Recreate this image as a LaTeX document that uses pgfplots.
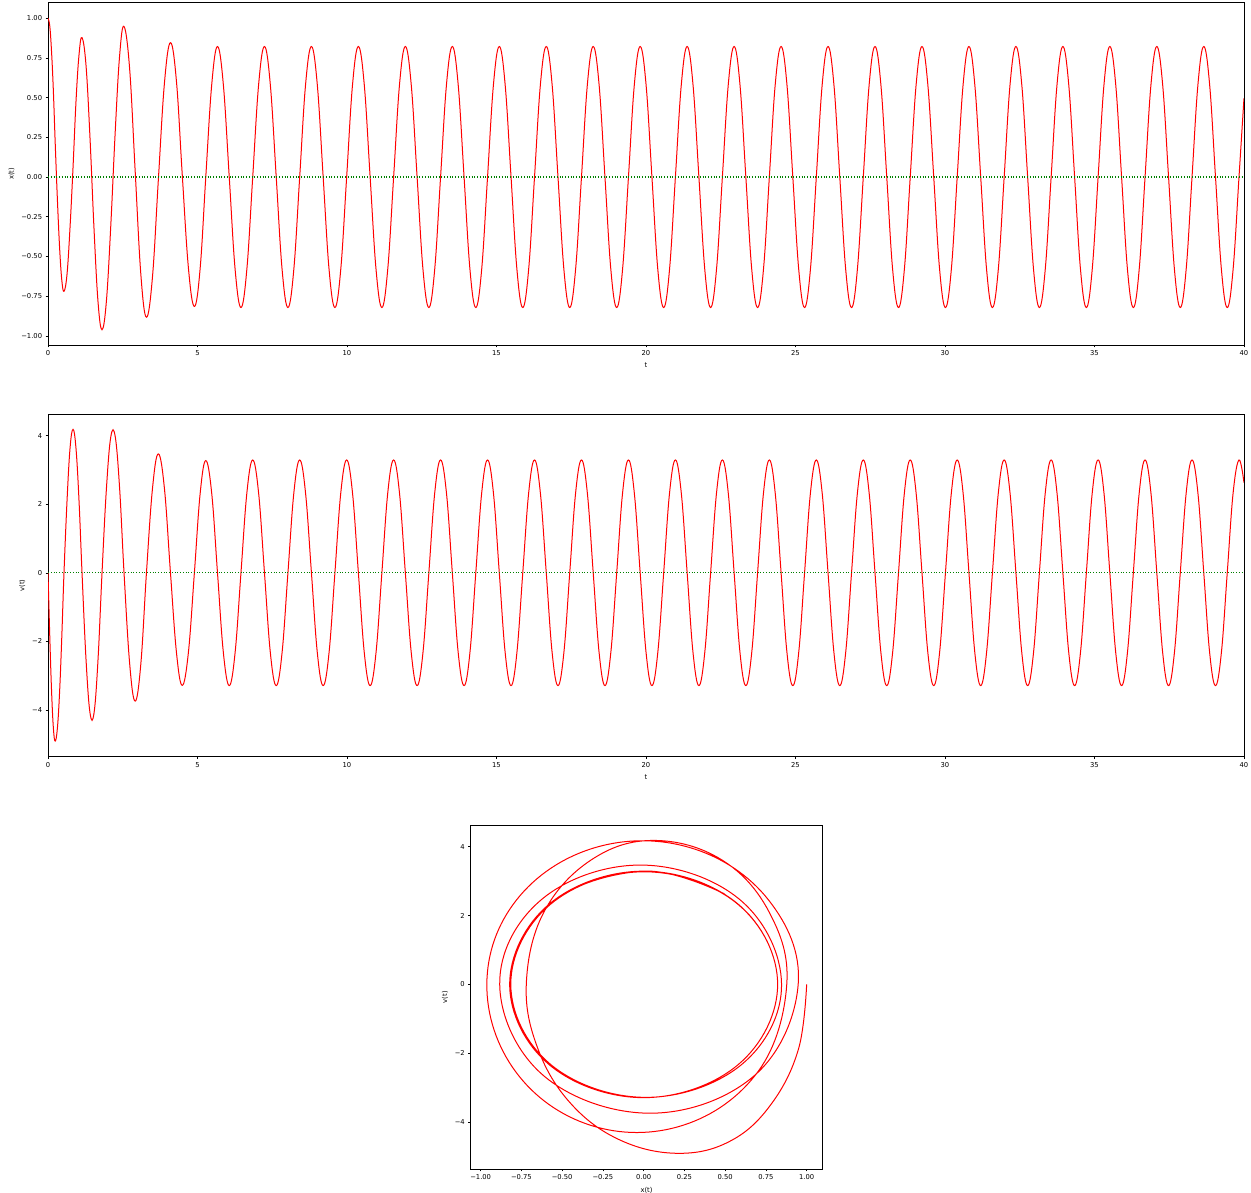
\documentclass[border=0pt]{standalone}
\usepackage{pgfplots}
\usepackage{pgfplotstable}
\pgfplotsset{compat=1.18}
\usepackage{fontspec}
\setmainfont{DejaVu Sans}

\pgfplotstableread{
t x v
0.000 1.000 0.000
0.060 0.950 -1.875
0.120 0.785 -3.460
0.180 0.540 -4.527
0.240 0.220 -4.905
0.314 -0.140 -4.530
0.388 -0.445 -3.470
0.461 -0.648 -1.877
0.535 -0.720 0.000
0.636 -0.613 2.090
0.736 -0.320 3.620
0.837 0.060 4.180
0.937 0.478 3.620
1.038 0.771 2.090
1.138 0.878 0.000
1.272 0.702 -2.530
1.406 0.242 -4.090
1.539 -0.326 -4.090
1.673 -0.786 -2.530
1.807 -0.962 0.000
1.954 -0.780 2.452
2.101 -0.302 3.966
2.249 0.288 3.966
2.396 0.766 2.452
2.543 0.948 0.000
2.731 0.680 -2.645
2.915 0.040 -3.740
3.106 -0.615 -2.645
3.293 -0.883 0.000
3.494 -0.630 2.450
3.690 -0.020 3.465
3.895 0.593 2.450
4.096 0.846 0.000
4.296 0.603 -2.319
4.490 0.015 -3.280
4.696 -0.572 -2.319
4.896 -0.815 0.000
5.089 -0.575 2.312
5.278 0.003 3.270
5.476 0.582 2.312
5.669 0.822 0.000
5.865 0.581 -2.325
6.062 0.000 -3.288
6.258 -0.581 -2.325
6.454 -0.822 0.000
6.651 -0.581 2.325
6.847 0.000 3.288
7.044 0.581 2.325
7.240 0.822 0.000
7.436 0.581 -2.325
7.633 0.000 -3.288
7.829 -0.581 -2.325
8.025 -0.822 0.000
8.222 -0.581 2.325
8.418 0.000 3.288
8.614 0.581 2.325
8.811 0.822 0.000
9.007 0.581 -2.325
9.203 0.000 -3.288
9.400 -0.581 -2.325
9.596 -0.822 0.000
9.792 -0.581 2.325
9.989 0.000 3.288
10.185 0.581 2.325
10.381 0.822 0.000
10.578 0.581 -2.325
10.774 0.000 -3.288
10.971 -0.581 -2.325
11.167 -0.822 0.000
11.363 -0.581 2.325
11.560 0.000 3.288
11.756 0.581 2.325
11.952 0.822 0.000
12.149 0.581 -2.325
12.345 0.000 -3.288
12.541 -0.581 -2.325
12.738 -0.822 0.000
12.934 -0.581 2.325
13.130 0.000 3.288
13.327 0.581 2.325
13.523 0.822 0.000
13.719 0.581 -2.325
13.916 0.000 -3.288
14.112 -0.581 -2.325
14.308 -0.822 0.000
14.505 -0.581 2.325
14.701 0.000 3.288
14.898 0.581 2.325
15.094 0.822 0.000
15.290 0.581 -2.325
15.487 0.000 -3.288
15.683 -0.581 -2.325
15.879 -0.822 0.000
16.076 -0.581 2.325
16.272 0.000 3.288
16.468 0.581 2.325
16.665 0.822 0.000
16.861 0.581 -2.325
17.057 0.000 -3.288
17.254 -0.581 -2.325
17.450 -0.822 0.000
17.646 -0.581 2.325
17.843 0.000 3.288
18.039 0.581 2.325
18.235 0.822 0.000
18.432 0.581 -2.325
18.628 0.000 -3.288
18.824 -0.581 -2.325
19.021 -0.822 0.000
19.217 -0.581 2.325
19.414 0.000 3.288
19.610 0.581 2.325
19.806 0.822 0.000
20.003 0.581 -2.325
20.199 0.000 -3.288
20.395 -0.581 -2.325
20.592 -0.822 0.000
20.788 -0.581 2.325
20.984 0.000 3.288
21.181 0.581 2.325
21.377 0.822 0.000
21.573 0.581 -2.325
21.770 0.000 -3.288
21.966 -0.581 -2.325
22.162 -0.822 0.000
22.359 -0.581 2.325
22.555 0.000 3.288
22.752 0.581 2.325
22.948 0.822 0.000
23.144 0.581 -2.325
23.340 0.000 -3.288
23.537 -0.581 -2.325
23.733 -0.822 0.000
23.930 -0.581 2.325
24.126 0.000 3.288
24.322 0.581 2.325
24.519 0.822 0.000
24.715 0.581 -2.325
24.911 0.000 -3.288
25.108 -0.581 -2.325
25.304 -0.822 0.000
25.500 -0.581 2.325
25.697 0.000 3.288
25.893 0.581 2.325
26.089 0.822 0.000
26.286 0.581 -2.325
26.482 0.000 -3.288
26.679 -0.581 -2.325
26.875 -0.822 0.000
27.071 -0.581 2.325
27.268 0.000 3.288
27.464 0.581 2.325
27.660 0.822 0.000
27.857 0.581 -2.325
28.053 0.000 -3.288
28.249 -0.581 -2.325
28.446 -0.822 0.000
28.642 -0.581 2.325
28.838 0.000 3.288
29.035 0.581 2.325
29.231 0.822 0.000
29.427 0.581 -2.325
29.624 0.000 -3.288
29.820 -0.581 -2.325
30.016 -0.822 0.000
30.213 -0.581 2.325
30.409 0.000 3.288
30.606 0.581 2.325
30.802 0.822 0.000
30.998 0.581 -2.325
31.195 0.000 -3.288
31.391 -0.581 -2.325
31.587 -0.822 0.000
31.784 -0.581 2.325
31.980 0.000 3.288
32.176 0.581 2.325
32.373 0.822 0.000
32.569 0.581 -2.325
32.765 0.000 -3.288
32.962 -0.581 -2.325
33.158 -0.822 0.000
33.354 -0.581 2.325
33.551 0.000 3.288
33.747 0.581 2.325
33.943 0.822 0.000
34.140 0.581 -2.325
34.336 0.000 -3.288
34.532 -0.581 -2.325
34.729 -0.822 0.000
34.925 -0.581 2.325
35.122 0.000 3.288
35.318 0.581 2.325
35.514 0.822 0.000
35.711 0.581 -2.325
35.907 0.000 -3.288
36.103 -0.581 -2.325
36.300 -0.822 0.000
36.496 -0.581 2.325
36.692 0.000 3.288
36.889 0.581 2.325
37.085 0.822 0.000
37.281 0.581 -2.325
37.478 0.000 -3.288
37.674 -0.581 -2.325
37.870 -0.822 0.000
38.067 -0.581 2.325
38.263 0.000 3.288
38.460 0.581 2.325
38.656 0.822 0.000
38.852 0.581 -2.325
39.048 0.000 -3.288
39.245 -0.581 -2.325
39.441 -0.822 0.000
39.637 -0.581 2.325
39.834 0.000 3.288
40.000 0.495 2.630
}\osc

\definecolor{mplgreen}{rgb}{0,0.5,0}
\pgfplotsset{
  myax/.style={
    scale only axis,
    anchor=south west,
    axis line style={line width=0.55bp, black},
    every tick/.style={black, line width=0.55bp},
    major tick length=2.4bp,
    tick align=outside,
    tick pos=left,
    tick label style={font=\fontsize{6.8}{8}\selectfont},
    label style={font=\fontsize{6.8}{8}\selectfont},
    clip=true,
  },
  redline/.style={color=red, line width=1bp, smooth, tension=0.65, no markers},
  zeroline/.style={color=mplgreen, line width=1.05bp, dash pattern=on 1.05bp off 1.7bp, no markers},
}

\begin{document}
\begin{tikzpicture}
\path[use as bounding box] (0,0) rectangle (1251bp,1193bp);

% top: x(t)
\begin{axis}[myax,
  at={(48bp,848bp)}, width=1196bp, height=342.3bp,
  xmin=0, xmax=40, ymin=-1.058, ymax=1.098,
  xtick={0,5,...,40},
  ytick={-1,-0.75,-0.5,-0.25,0,0.25,0.5,0.75,1},
  yticklabels={−1.00,−0.75,−0.50,−0.25,0.00,0.25,0.50,0.75,1.00},
  xticklabels={0,5,10,15,20,25,30,35,40},
  xlabel={t}, ylabel={x(t)},
]
\addplot[redline] table[x=t, y=x] {\osc};
\addplot[zeroline] coordinates {(0,0) (40,0)};
\end{axis}

% middle: v(t)
\begin{axis}[myax,
  at={(48bp,436.3bp)}, width=1196bp, height=342.4bp,
  xmin=0, xmax=40, ymin=-5.36, ymax=4.62,
  xtick={0,5,...,40},
  xticklabels={0,5,10,15,20,25,30,35,40},
  ytick={-4,-2,0,2,4},
  yticklabels={−4,−2,0,2,4},
  xlabel={t}, ylabel={v(t)},
]
\addplot[redline] table[x=t, y=v] {\osc};
\addplot[zeroline] coordinates {(0,0) (40,0)};
\end{axis}

% bottom: phase portrait
\begin{axis}[myax,
  at={(470.7bp,24bp)}, width=351.6bp, height=343.7bp,
  xmin=-1.061, xmax=1.096, ymin=-5.36, ymax=4.62,
  xtick={-1,-0.75,-0.5,-0.25,0,0.25,0.5,0.75,1},
  xticklabels={−1.00,−0.75,−0.50,−0.25,0.00,0.25,0.50,0.75,1.00},
  ytick={-4,-2,0,2,4},
  yticklabels={−4,−2,0,2,4},
  xlabel={x(t)}, ylabel={v(t)},
]
\addplot[redline] table[x=x, y=v] {\osc};
\end{axis}
\end{tikzpicture}
\end{document}
